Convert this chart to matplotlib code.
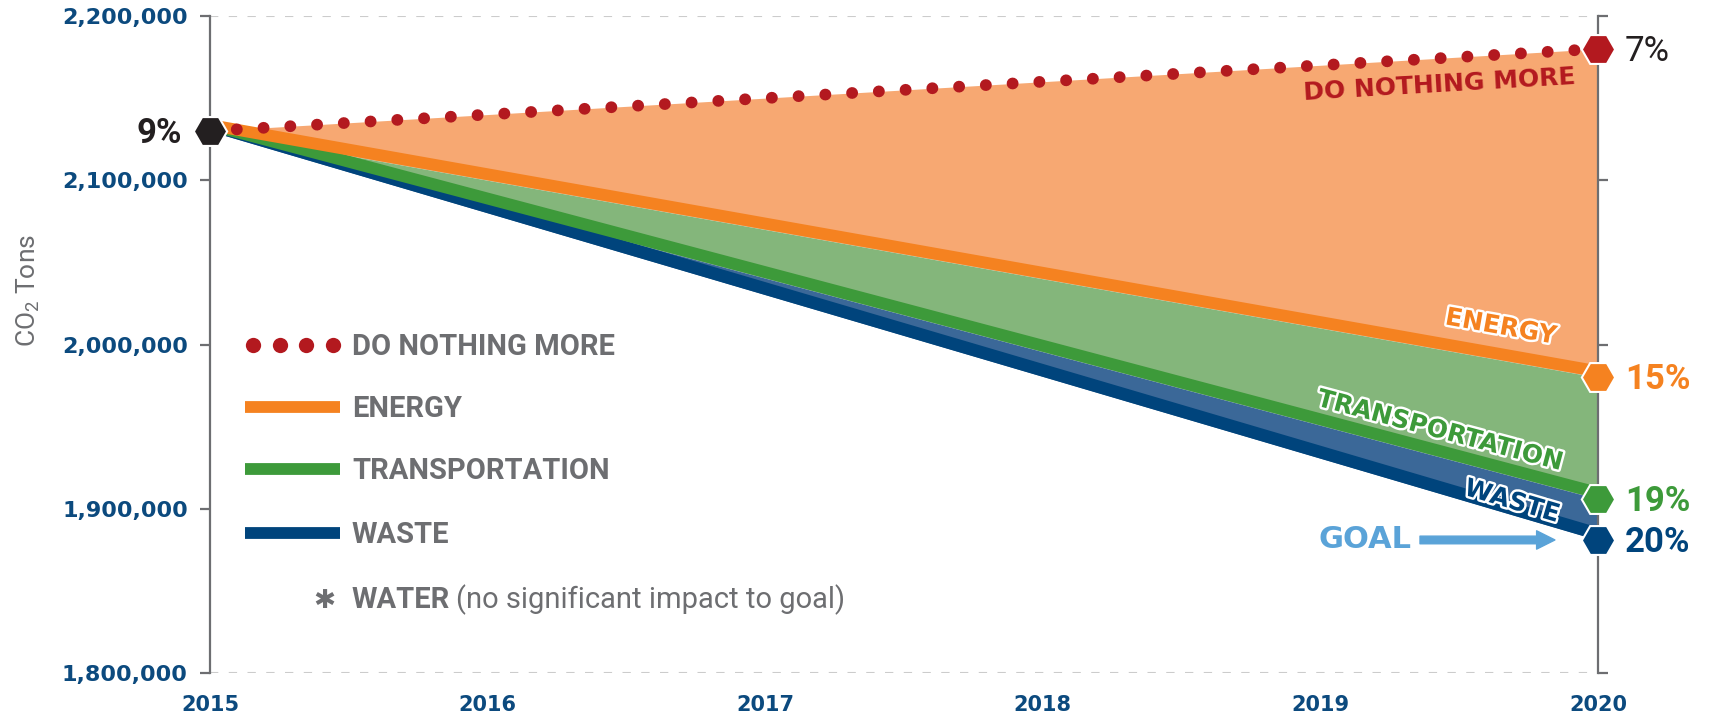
import matplotlib
matplotlib.use("Agg")
import numpy as np
import matplotlib.pyplot as plt
import matplotlib.patheffects as pe
from matplotlib.transforms import offset_copy

# Data (CO2 tons)
years = [2015, 2020]
do_nothing = [2130000, 2180000]
energy = [2130000, 1980000]
transportation = [2130000, 1906000]
waste = [2130000, 1881000]

start_pct = "9%"
end_pcts = ["7%", "15%", "19%", "20%"]

x_ticks = [2015, 2016, 2017, 2018, 2019, 2020]
y_ticks = [1800000, 1900000, 2000000, 2100000, 2200000]

legend_labels = ["DO NOTHING MORE", "ENERGY", "TRANSPORTATION", "WASTE"]

# Colours
RED = "#b3191f"
ORANGE = "#f58220"
ORANGE_FILL = "#f7a872"
GREEN = "#3d9a3a"
GREEN_FILL = "#84b67b"
BLUE_FILL = "#3b6898"
NAVY = "#00447c"
TICK_NAVY = "#0c4a7e"
GREY = "#6d6e71"
GOAL_BLUE = "#5aa3d8"
BLACK = "#231f20"

plt.rcParams['font.family'] = ['Roboto', 'DejaVu Sans']
plt.rcParams['mathtext.fontset'] = 'custom'
plt.rcParams['mathtext.rm'] = 'Roboto'

W, H = 1714, 719
AX_L, AX_R, AX_T, AX_B = 210, 1598, 16, 673
fig = plt.figure(figsize=(W / 100, H / 100), dpi=100)
ax = fig.add_axes([AX_L / W, 1 - AX_B / H, (AX_R - AX_L) / W, (AX_B - AX_T) / H])
ax.set_xlim(years[0], years[-1])
ax.set_ylim(y_ticks[0], y_ticks[-1])


def axfrac(x, y):
    # pixel position (top-left origin) -> axes fraction
    return (x - AX_L) / (AX_R - AX_L), (AX_B - y) / (AX_B - AX_T)


# Filled bands
ax.fill_between(years, do_nothing, energy, color=ORANGE_FILL, lw=0, zorder=1)
ax.fill_between(years, energy, transportation, color=GREEN_FILL, lw=0, zorder=1)
ax.fill_between(years, transportation, waste, color=BLUE_FILL, lw=0, zorder=1)

# Thick lines sit just above their value
up = offset_copy(ax.transData, fig=fig, x=0, y=6, units='dots')
ax.plot(years, waste, color=NAVY, lw=9, solid_capstyle='butt', transform=up, zorder=2)
ax.plot(years, transportation, color=GREEN, lw=8.5, solid_capstyle='butt', transform=up, zorder=3)
ax.plot(years, energy, color=ORANGE, lw=8.5, solid_capstyle='butt', transform=up, zorder=4)

# Dotted "do nothing" line
ax.plot(years, do_nothing, color=RED, lw=8.5, dashes=(0.01, 2.26), dash_capstyle='round',
        zorder=5, clip_on=False)

# Hexagon end markers
ax.plot([years[0]], [do_nothing[0]], marker='H', ms=24, color=BLACK, mec='white', mew=1.5,
        clip_on=False, zorder=10)
end_series = [do_nothing, energy, transportation, waste]
end_colors = [RED, ORANGE, GREEN, NAVY]
for ys, c in zip(end_series, end_colors):
    ax.plot([years[-1]], [ys[-1]], marker='H', ms=24, color=c, mec='white', mew=1.5,
            clip_on=False, zorder=10)

# Percentage labels
ax.annotate(start_pct, (years[0], do_nothing[0]), xytext=(-28, -12), textcoords='offset pixels',
            ha='right', va='baseline', fontsize=25, fontweight='bold', color=BLACK,
            annotation_clip=False)
for i, (ys, c, txt) in enumerate(zip(end_series, end_colors, end_pcts)):
    ax.annotate(txt, (years[-1], ys[-1]), xytext=(27, -12), textcoords='offset pixels',
                ha='left', va='baseline', fontsize=25,
                fontweight='normal' if i == 0 else 'bold',
                color=BLACK if i == 0 else c, annotation_clip=False)


def angle_of(ys):
    p = ax.transData.transform([(years[0], ys[0]), (years[-1], ys[-1])])
    return np.degrees(np.arctan2(p[1, 1] - p[0, 1], p[1, 0] - p[0, 0]))


def line_label(txt, ys, xpos, dy, color, outline):
    yv = np.interp(xpos, years, ys)
    effects = [pe.withStroke(linewidth=3.5, foreground='white')] if outline else None
    ax.annotate(txt, (xpos, yv), xytext=(0, dy), textcoords='offset pixels',
                ha='center', va='center', rotation=angle_of(ys), rotation_mode='anchor',
                fontsize=18, fontweight='bold', family='DejaVu Sans', color=color,
                path_effects=effects, zorder=12)


line_label("DO NOTHING MORE", do_nothing, 2019.43, -27, RED, False)
line_label("ENERGY", energy, 2019.65, 33, ORANGE, True)
line_label("TRANSPORTATION", transportation, 2019.43, 26, GREEN, True)
line_label("WASTE", waste, 2019.69, 13, NAVY, True)

# GOAL arrow
ax.annotate("GOAL", (years[-1], waste[-1]), xytext=(-233, 0), textcoords='offset pixels',
            ha='center', va='center', fontsize=22, fontweight='bold', family='DejaVu Sans',
            color=GOAL_BLUE, zorder=12)
ax.annotate("", xy=(years[-1], waste[-1]), xytext=(-178, 0), textcoords='offset pixels',
            arrowprops=dict(arrowstyle='simple,head_length=0.6,head_width=0.6,tail_width=0.25',
                            mutation_scale=22, color=GOAL_BLUE, shrinkA=0, shrinkB=31),
            zorder=12)

# Legend drawn by hand
leg_rows = [345, 407, 469, 533]
x0, x1 = axfrac(245, 0)[0], axfrac(340, 0)[0]
tx = axfrac(352, 0)[0]
dot_x = [axfrac(px, 0)[0] for px in np.linspace(253, 333, 4)]
ya = axfrac(0, leg_rows[0])[1]
ax.plot(dot_x, [ya] * 4, 'o', ms=11, color=RED, mew=0, transform=ax.transAxes, clip_on=False)
for row, c in zip(leg_rows[1:], [ORANGE, GREEN, NAVY]):
    ya = axfrac(0, row)[1]
    ax.plot([x0, x1], [ya, ya], color=c, lw=8.5, solid_capstyle='butt', transform=ax.transAxes)
for row, lab in zip(leg_rows, legend_labels):
    ya = axfrac(0, row + 10)[1]
    ax.text(tx, ya, lab, transform=ax.transAxes, ha='left', va='baseline', fontsize=21,
            fontweight='bold', color=GREY)

# Water note
ya = axfrac(0, 608)[1]
ax.text(axfrac(324, 0)[0], ya, "✱", transform=ax.transAxes, ha='center', va='baseline',
        fontsize=19, family='DejaVu Sans', color=GREY)
t1 = ax.text(tx, ya, "WATER", transform=ax.transAxes, ha='left', va='baseline', fontsize=21,
             fontweight='bold', color=GREY)
renderer = fig.canvas.get_renderer()
bb = t1.get_window_extent(renderer)
x_end = ax.transAxes.inverted().transform((bb.x1 + 6, 0))[0]
ax.text(x_end, ya, "(no significant impact to goal)", transform=ax.transAxes, ha='left',
        va='baseline', fontsize=21, color=GREY)

# Axes styling
for s in ['top', 'bottom']:
    ax.spines[s].set_visible(False)
for s in ['left', 'right']:
    ax.spines[s].set_color(GREY)
    ax.spines[s].set_linewidth(1.6)
for yv in (y_ticks[0], y_ticks[-1]):
    ax.axhline(yv, color='#cccccc', lw=1.5, dashes=(4, 5), zorder=0)

ax.set_yticks(y_ticks)
ax.set_yticklabels([f"{v:,}" for v in y_ticks], fontsize=16, fontweight='bold',
                   family='DejaVu Sans', color=TICK_NAVY)
ax.set_xticks(x_ticks)
ax.set_xticklabels([str(v) for v in x_ticks], fontsize=15, fontweight='bold',
                   family='DejaVu Sans', color=TICK_NAVY)
ax.tick_params(axis='y', which='both', left=True, right=True, direction='out', length=7,
               width=1.6, color=GREY, pad=9)
ax.tick_params(axis='x', length=0, pad=16)

fig.text(28 / W, 1 - 291 / H, "CO$_2$ Tons", rotation=90, ha='center', va='center',
         fontsize=19, color=GREY)

fig.savefig("out.png", dpi=100)
